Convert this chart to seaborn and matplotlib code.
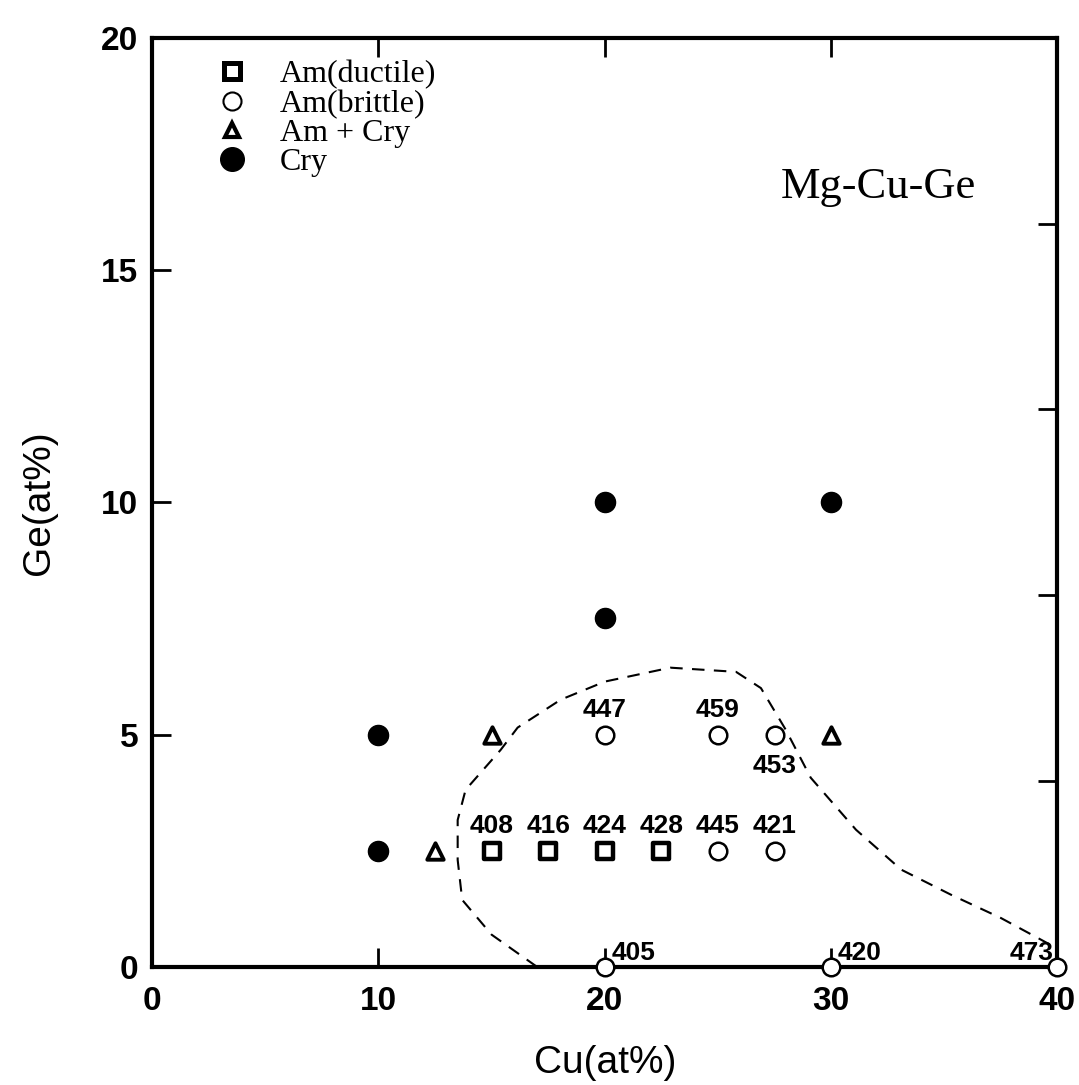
import matplotlib
matplotlib.use("Agg")
import matplotlib.pyplot as plt
from matplotlib.lines import Line2D
import seaborn as sns
import pandas as pd

# ---- data ----
ductile_cu = [15, 17.5, 20, 22.5]
ductile_ge = [2.5, 2.5, 2.5, 2.5]
brittle_cu = [20, 25, 27.5, 25, 27.5, 20, 30, 40]
brittle_ge = [5, 5, 5, 2.5, 2.5, 0, 0, 0]
amcry_cu = [12.5, 15, 30]
amcry_ge = [2.5, 5, 5]
cry_cu = [10, 10, 20, 20, 30]
cry_ge = [2.5, 5, 7.5, 10, 10]

# Tx labels (value, x, y, placement)
lab_vals = ["408", "416", "424", "428", "445", "421", "447", "459", "453", "405", "420", "473"]
lab_cu = [15, 17.5, 20, 22.5, 25, 27.5, 20, 25, 27.5, 20, 30, 40]
lab_ge = [2.5, 2.5, 2.5, 2.5, 2.5, 2.5, 5, 5, 5, 0, 0, 0]
lab_pos = ["above"] * 8 + ["below", "right", "right", "left"]

# glass-forming region boundary (dashed)
bound_cu = [17.0, 15.0, 13.7, 13.5, 13.5, 13.85, 15.4, 16.15, 18.05, 20.0, 22.9, 25.8,
            26.9, 28.0, 29.1, 31.1, 33.1, 35.3, 37.5, 39.7]
bound_ge = [0.0, 0.69, 1.44, 2.3, 3.16, 3.81, 4.67, 5.15, 5.75, 6.14, 6.44, 6.35,
            6.0, 5.1, 4.07, 2.95, 2.09, 1.55, 1.05, 0.47]

legend_labels = ["Am(ductile)", "Am(brittle)", "Am + Cry", "Cry"]

# ---- plot ----
sns.set_theme(style="ticks")
plt.rcParams["font.family"] = ["Liberation Sans", "DejaVu Sans"]
for k in ["text.color", "axes.labelcolor", "xtick.color", "ytick.color", "axes.edgecolor"]:
    plt.rcParams[k] = "black"

fig = plt.figure(figsize=(10.79, 10.85), dpi=100)
ax = fig.add_axes([0.141, 0.109, 0.839, 0.856])

bound = pd.DataFrame({"Cu": bound_cu, "Ge": bound_ge})
sns.lineplot(data=bound, x="Cu", y="Ge", sort=False, estimator=None, ax=ax,
             color="black", lw=1.5, dashes=False, linestyle=(0, (6, 4.5)))

sns.scatterplot(x=ductile_cu, y=ductile_ge, ax=ax, marker="s", s=135,
                facecolor="white", edgecolor="black", linewidth=3.2, clip_on=False, zorder=3)
sns.scatterplot(x=brittle_cu, y=brittle_ge, ax=ax, marker="o", s=160,
                facecolor="white", edgecolor="black", linewidth=1.8, clip_on=False, zorder=3)
sns.scatterplot(x=amcry_cu, y=amcry_ge, ax=ax, marker="^", s=140,
                facecolor="white", edgecolor="black", linewidth=2.8, clip_on=False, zorder=3)
sns.scatterplot(x=cry_cu, y=cry_ge, ax=ax, marker="o", s=210,
                facecolor="black", edgecolor="black", linewidth=1, clip_on=False, zorder=3)

offsets = {"above": (0, 9, "center", "bottom"),
           "below": (0, -14, "center", "top"),
           "right": (5, 1, "left", "bottom"),
           "left": (-3, 1, "right", "bottom")}
for v, x, y, p in zip(lab_vals, lab_cu, lab_ge, lab_pos):
    dx, dy, ha, va = offsets[p]
    ax.annotate(v, (x, y), xytext=(dx, dy), textcoords="offset points",
                ha=ha, va=va, fontsize=19, fontweight="bold", annotation_clip=False)

ax.text(32.1, 16.8, "Mg-Cu-Ge", fontsize=32, family=["Liberation Serif"],
        ha="center", va="center")

handles = [
    Line2D([], [], marker="s", ls="none", ms=12, mfc="white", mec="black", mew=3.6),
    Line2D([], [], marker="o", ls="none", ms=13, mfc="white", mec="black", mew=1.5),
    Line2D([], [], marker="^", ls="none", ms=10, mfc="white", mec="black", mew=3.0),
    Line2D([], [], marker="o", ls="none", ms=17, mfc="black", mec="black"),
]
ax.legend(handles, legend_labels, loc="upper left", bbox_to_anchor=(0.053, 0.99),
          frameon=False, prop={"family": "Liberation Serif", "size": 23},
          handletextpad=0.9, labelspacing=0.0, handlelength=1.2, borderaxespad=0)

ax.set_xlim(0, 40)
ax.set_ylim(0, 20)
ax.set_xticks([0, 10, 20, 30, 40])
ax.set_yticks([0, 5, 10, 15, 20])
ax.tick_params(direction="in", length=14, width=2, labelsize=24, pad=10,
               top=True, right=False)
ax.tick_params(axis="x", pad=14)
for lbl in ax.get_xticklabels() + ax.get_yticklabels():
    lbl.set_fontweight("bold")
sec = ax.secondary_yaxis("right")
sec.set_yticks([4, 8, 12, 16])
sec.tick_params(direction="in", length=14, width=2, labelright=False)
sec.spines["right"].set_visible(False)

for s in ax.spines.values():
    s.set_linewidth(3)
    s.set_color("black")

ax.set_xlabel("Cu(at%)", fontsize=28, labelpad=20)
ax.set_ylabel("Ge(at%)", fontsize=28, labelpad=32)

fig.savefig("out.png", dpi=100, facecolor="white")
